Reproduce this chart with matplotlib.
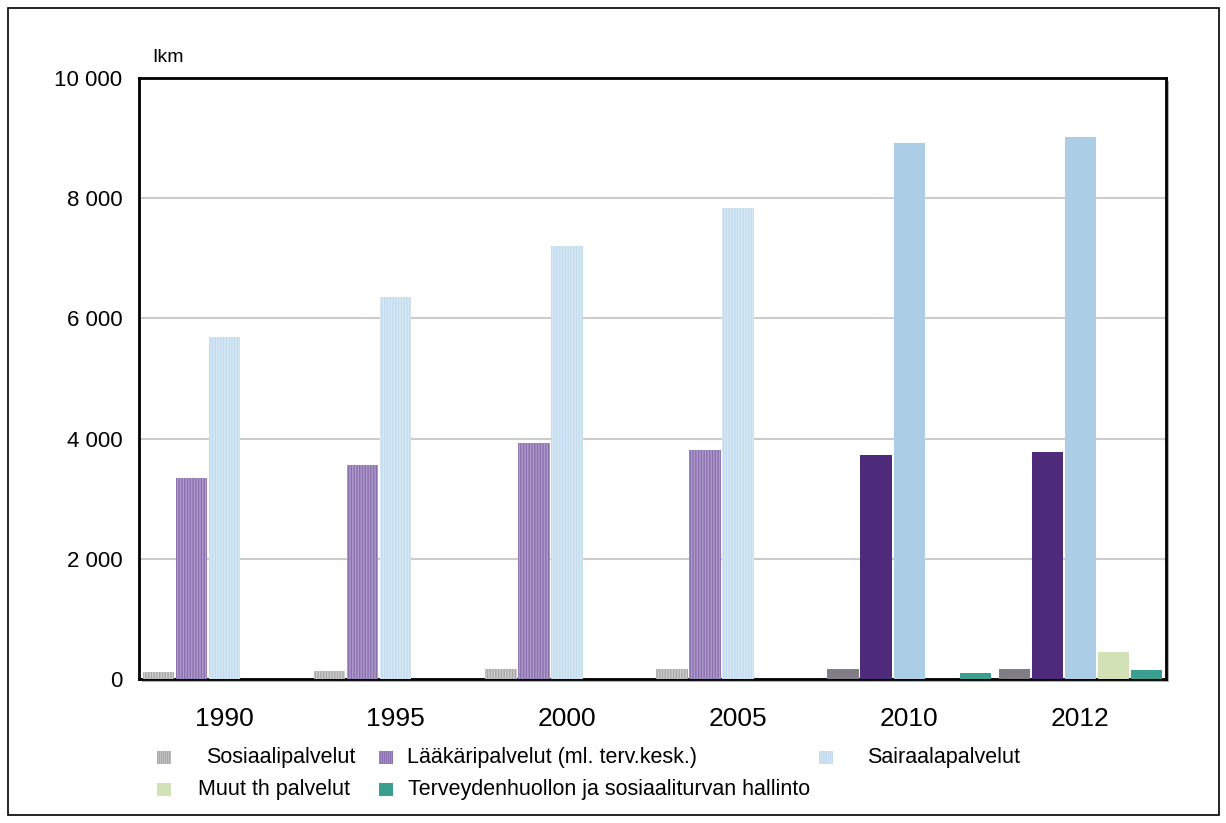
import matplotlib
matplotlib.use("Agg")
import matplotlib.pyplot as plt
from matplotlib.patches import Rectangle
import numpy as np

plt.rcParams['font.family'] = ['Liberation Sans', 'DejaVu Sans']
plt.rcParams['hatch.linewidth'] = 1.0

years = ['1990', '1995', '2000', '2005', '2010', '2012']
series_names = ['Sosiaalipalvelut', 'Lääkäripalvelut (ml. terv.kesk.)', 'Sairaalapalvelut',
                'Muut th palvelut', 'Terveydenhuollon ja sosiaaliturvan hallinto']
sosiaali = [116, 135, 166, 166, 166, 170]
laakari = [3345, 3560, 3925, 3810, 3725, 3775]
sairaala = [5690, 6355, 7205, 7835, 8920, 9020]
muut = [0, 0, 0, 0, 0, 450]
hallinto = [0, 0, 0, 0, 100, 150]
yticks = [0, 2000, 4000, 6000, 8000, 10000]
ytick_labels = ['0', '2 000', '4 000', '6 000', '8 000', '10 000']

# styles: solid colours (2010+) and hatched (old series) colours
solid_colors = ['#807d87', '#4e2a7b', '#abcde6', '#d3e1b7', '#3a9f8f']
hatch_face = ['#cdcdcd', '#ae9bcb', '#d8e9f5', '#d3e1b7', '#3a9f8f']
hatch_line = ['#a8a8a8', '#8a70ae', '#c2dbee', '#d3e1b7', '#3a9f8f']
n_hatched_years = 4

W, H = 1226, 823
fig = plt.figure(figsize=(W / 100, H / 100), dpi=100)
ax_l, ax_r, ax_t, ax_b = 139, 1166, 78, 679
ax = fig.add_axes([ax_l / W, 1 - ax_b / H, (ax_r - ax_l) / W, (ax_b - ax_t) / H])

data = [sosiaali, laakari, sairaala, muut, hallinto]
x = np.arange(len(years))
slot = 0.193
bw = 0.184
for i, vals in enumerate(data):
    xs = x + (i - 2) * slot
    vals = np.array(vals, dtype=float)
    old = slice(0, n_hatched_years)
    new = slice(n_hatched_years, None)
    ax.bar(xs[old], vals[old], width=bw, color=hatch_face[i], edgecolor=hatch_line[i],
           linewidth=0, hatch='||||||', zorder=3)
    ax.bar(xs[new], vals[new], width=bw, color=solid_colors[i], linewidth=0, zorder=3)

ax.set_xlim(-0.5, len(years) - 0.5)
ax.set_ylim(0, 10000)
ax.set_yticks(yticks)
ax.set_yticklabels(ytick_labels, fontsize=16)
ax.set_xticks(x)
ax.set_xticklabels(years, fontsize=19)
ax.tick_params(axis='y', length=0, pad=12)
ax.tick_params(axis='x', length=0, pad=20)
ax.grid(axis='y', color='#cccccc', linewidth=1.5, zorder=0)
ax.set_axisbelow(True)
for s in ax.spines.values():
    s.set_linewidth(2)
    s.set_color('black')

# shadow behind plot frame
fig.patches.append(Rectangle(((ax_l + 3) / W, 1 - (ax_b + 3) / H), (ax_r - ax_l) / W, (ax_b - ax_t) / H,
                             transform=fig.transFigure, facecolor='#b0b0b0', edgecolor='none', zorder=-5))

fig.text(152 / W, 1 - 57 / H, 'Ikm', fontsize=14, va='center', ha='left')

# outer border
fig.patches.append(Rectangle((8 / W, 1 - 815 / H), (1219 - 8) / W, (815 - 8) / H,
                             transform=fig.transFigure, facecolor='none', edgecolor='black',
                             linewidth=1.2, zorder=10))

# legend
leg_items = [
    (0, 157, 757, 206), (1, 379, 757, 407), (2, 819, 757, 867),
    (3, 157, 789, 198), (4, 379, 789, 408),
]
for idx, mx, my, tx in leg_items:
    hatched = idx < 3
    fc = hatch_face[idx] if hatched else solid_colors[idx]
    fig.patches.append(Rectangle((mx / W, 1 - (my + 6.5) / H), 14 / W, 13 / H,
                                 transform=fig.transFigure, facecolor=fc,
                                 edgecolor=hatch_line[idx] if hatched else 'none',
                                 linewidth=0, hatch='||||||||' if hatched else None))
    fig.text(tx / W, 1 - my / H, series_names[idx], fontsize=15.5, va='center', ha='left')

fig.savefig('out.png', dpi=100, facecolor='white')
